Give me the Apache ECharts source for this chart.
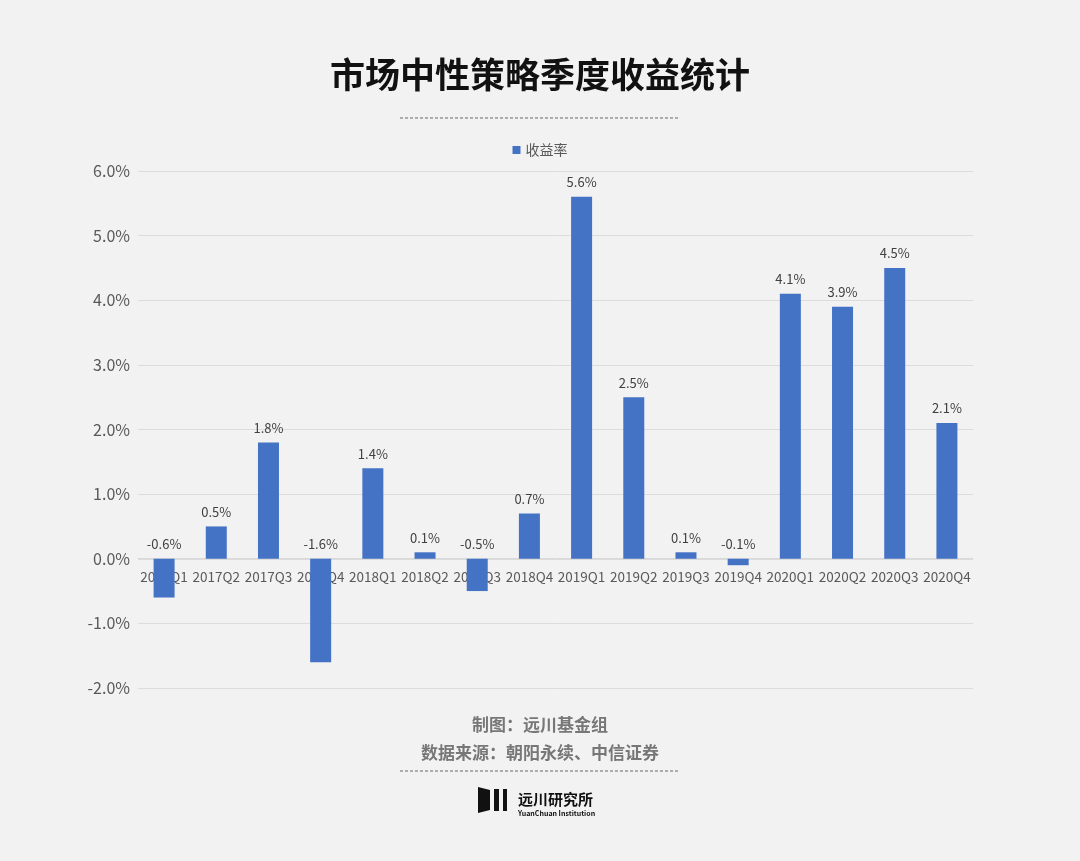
<!DOCTYPE html>
<html>
<head>
<meta charset="utf-8">
<script src="https://cdn.jsdelivr.net/npm/echarts@6/dist/echarts.min.js"></script>
<style>
html,body{margin:0;padding:0;background:#f2f2f2;}
#main{width:1080px;height:861px;}
</style>
</head>
<body>
<div id="main"></div>
<script>
// 季度收益数据
var quarters = ['2017Q1','2017Q2','2017Q3','2017Q4','2018Q1','2018Q2','2018Q3','2018Q4',
    '2019Q1','2019Q2','2019Q3','2019Q4','2020Q1','2020Q2','2020Q3','2020Q4'];
var returns = [-0.6, 0.5, 1.8, -1.6, 1.4, 0.1, -0.5, 0.7, 5.6, 2.5, 0.1, -0.1, 4.1, 3.9, 4.5, 2.1];

var myChart = echarts.init(document.getElementById('main'));
var font = '"Noto Sans CJK SC", sans-serif';

var option = {
    backgroundColor: '#f2f2f2',
    textStyle: {fontFamily: font},
    title: [{
        text: '市场中性策略季度收益统计',
        left: 'center', top: 52,
        textStyle: {fontSize: 35, fontWeight: 'bold', color: '#111', fontFamily: font}
    }, {
        text: '制图：远川基金组',
        left: 'center', top: 711,
        textStyle: {fontSize: 17, fontWeight: 'bold', color: '#777', fontFamily: font}
    }, {
        text: '数据来源：朝阳永续、中信证券',
        left: 'center', top: 739,
        textStyle: {fontSize: 17, fontWeight: 'bold', color: '#777', fontFamily: font}
    }, {
        text: '远川研究所',
        left: 513, top: 787,
        textStyle: {fontSize: 15, fontWeight: 'bold', color: '#111', fontFamily: font}
    }, {
        text: 'YuanChuan Institution',
        left: 513, top: 805,
        textStyle: {fontSize: 7, fontWeight: 'bold', color: '#111', fontFamily: font}
    }],
    graphic: [
        {type: 'line', shape: {x1: 400, y1: 118, x2: 680, y2: 118}, style: {stroke: '#666', lineDash: [3, 2], lineWidth: 1}},
        {type: 'line', shape: {x1: 400, y1: 771, x2: 680, y2: 771}, style: {stroke: '#666', lineDash: [3, 2], lineWidth: 1}},
        {type: 'polygon', shape: {points: [[478, 787], [490, 790], [490, 810], [478, 813]]}, style: {fill: '#111'}},
        {type: 'rect', shape: {x: 494, y: 789, width: 5, height: 22}, style: {fill: '#111'}},
        {type: 'rect', shape: {x: 503, y: 789, width: 4, height: 22}, style: {fill: '#111'}}
    ],
    legend: {
        data: ['收益率'],
        top: 138, left: 'center',
        icon: 'rect', itemWidth: 8, itemHeight: 8,
        textStyle: {fontSize: 14, color: '#595959'}
    },
    grid: {left: 138, right: 107, top: 171, bottom: 173},
    xAxis: {
        type: 'category',
        data: quarters,
        offset: -129.5,
        axisLine: {onZero: false, lineStyle: {color: '#d9d9d9'}},
        axisTick: {show: false},
        axisLabel: {color: '#595959', fontSize: 13.5, interval: 0, margin: 12}
    },
    yAxis: {
        type: 'value',
        min: -2, max: 6, interval: 1,
        axisLabel: {color: '#595959', fontSize: 16, formatter: function (v) { return v.toFixed(1) + '%'; }},
        splitLine: {lineStyle: {color: '#dcdcdc'}},
        axisLine: {show: false}, axisTick: {show: false}
    },
    series: [{
        name: '收益率',
        type: 'bar',
        data: returns,
        barWidth: 21,
        itemStyle: {color: '#4472c4'},
        label: {
            show: true,
            position: 'top',
            distance: 8,
            color: '#404040',
            fontSize: 13,
            formatter: function (p) { return p.value.toFixed(1) + '%'; }
        }
    }]
};

myChart.setOption(option);
</script>
</body>
</html>
